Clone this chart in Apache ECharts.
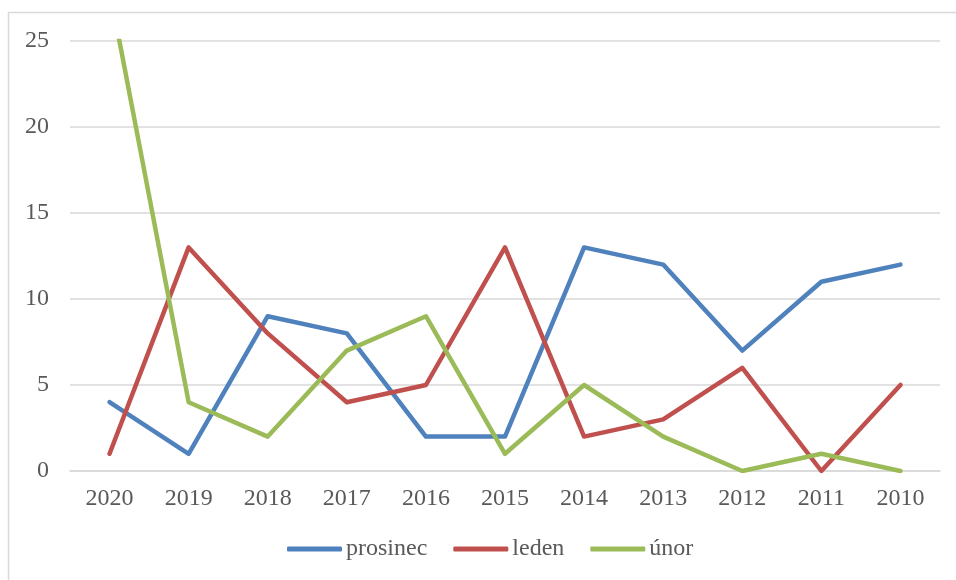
<!DOCTYPE html>
<html>
<head>
<meta charset="utf-8">
<script src="https://cdn.jsdelivr.net/npm/echarts@6/dist/echarts.min.js"></script>
<style>
  html, body { margin: 0; padding: 0; background: #fff; }
  #chart { width: 956px; height: 580px; }
</style>
</head>
<body>
<div id="chart"></div>
<script>
// Monthly counts per year, years listed newest first
const years = ['2020', '2019', '2018', '2017', '2016', '2015', '2014', '2013', '2012', '2011', '2010'];
const prosinec = [4, 1, 9, 8, 2, 2, 13, 12, 7, 11, 12];
const leden = [1, 13, 8, 4, 5, 13, 2, 3, 6, 0, 5];
const unor = [28, 4, 2, 7, 9, 1, 5, 2, 0, 1, 0];
const yTicks = { min: 0, max: 25, interval: 5 };

const font = '"Liberation Serif", "Times New Roman", serif';
const textColor = '#595959';
const gridColor = '#d9d9d9';

function lineSeries(name, data, color) {
  return {
    name: name,
    type: 'line',
    data: data,
    symbol: 'none',
    clip: true,
    lineStyle: { color: color, width: 4.5, cap: 'round', join: 'round' },
    itemStyle: { color: color },
    emphasis: { disabled: true }
  };
}

const chart = echarts.init(document.getElementById('chart'), null, { renderer: 'canvas' });
chart.setOption({
  animation: false,
  backgroundColor: '#fff',
  graphic: [{
    type: 'rect',
    shape: { x: 8.5, y: 12.5, width: 1000, height: 1000 },
    style: { fill: 'none', stroke: gridColor, lineWidth: 1.5 },
    silent: true
  }],
  grid: { left: 70, right: 16, top: 41, bottom: 109 },
  legend: {
    bottom: 14,
    left: 282,
    itemWidth: 55,
    itemHeight: 5,
    itemGap: 26,
    icon: 'roundRect',
    textStyle: { fontFamily: font, fontSize: 24, color: textColor, padding: [0, 0, 0, -1] },
    data: ['prosinec', 'leden', 'únor']
  },
  xAxis: {
    type: 'category',
    data: years,
    boundaryGap: true,
    axisLine: { show: true, lineStyle: { color: gridColor, width: 1.5 } },
    axisTick: { show: false },
    axisLabel: { fontFamily: font, fontSize: 24, color: textColor, margin: 16 }
  },
  yAxis: {
    type: 'value',
    min: yTicks.min,
    max: yTicks.max,
    interval: yTicks.interval,
    axisLine: { show: false },
    axisTick: { show: false },
    splitLine: { lineStyle: { color: gridColor, width: 1.5 } },
    axisLabel: { fontFamily: font, fontSize: 24, color: textColor, margin: 21 }
  },
  series: [
    lineSeries('prosinec', prosinec, '#4f81bd'),
    lineSeries('leden', leden, '#c0504d'),
    lineSeries('únor', unor, '#9bbb59')
  ]
});
</script>
</body>
</html>
